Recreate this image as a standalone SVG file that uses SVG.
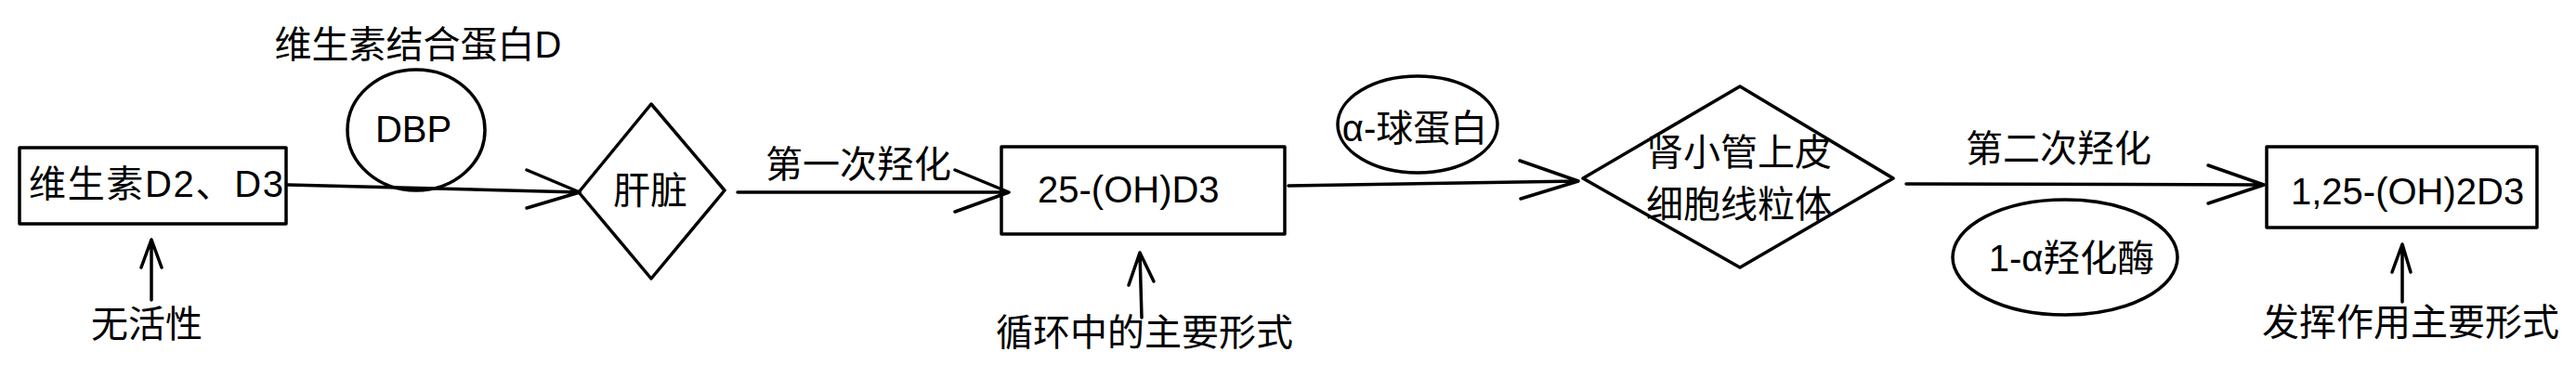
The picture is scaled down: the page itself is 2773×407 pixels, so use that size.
<svg xmlns="http://www.w3.org/2000/svg" width="2773" height="407" viewBox="0 0 2773 407">
<style>
.shape{fill:none;stroke:#000;stroke-width:3.5;stroke-linejoin:round;stroke-linecap:round}
.edge{fill:none;stroke:#000;stroke-width:3.5;stroke-linejoin:round;stroke-linecap:round}
text{font-family:"Liberation Sans","Noto Sans CJK SC",sans-serif;font-size:40px;fill:#000}
.m{text-anchor:middle}
</style>
<rect width="2773" height="407" fill="#fff"/>
<g id="connectors">
<path class="edge" d="M310 199 L624 207 M567 183 L624 207 L567 224"/>
<path class="edge" d="M794 207 L1086 207 M1028 183 L1086 207 L1028 228"/>
<path class="edge" d="M1387 200 L1699 195 M1636 173 L1699 195 L1637 214"/>
<path class="edge" d="M2052 198 L2437 199 M2377 178 L2437 199 L2377 219"/>
<path class="edge" d="M163 323 L163 258 M152 288 L163 258 L174 288"/>
<path class="edge" d="M1229 342 L1227 272 M1215 307 L1227 272 L1242 303"/>
<path class="edge" d="M2586 325 L2586 263 M2575 293 L2586 263 L2595 293"/>
</g>
<g id="vitD">
<rect class="shape" x="21" y="159" width="287" height="82"/>
<text x="31" y="212" textLength="274" lengthAdjust="spacing">维生素D2、D3</text>
</g>
<g id="dbpLabel"><text class="m" x="450" y="62">维生素结合蛋白D</text></g>
<g id="dbp">
<ellipse class="shape" cx="448" cy="140" rx="74" ry="65"/>
<text class="m" x="445" y="153">DBP</text>
</g>
<g id="inactive"><text class="m" x="158" y="363">无活性</text></g>
<g id="liver">
<polygon class="shape" points="623,207 701,112 780,205 701,300"/>
<text class="m" x="700" y="219">肝脏</text>
</g>
<g id="hyd1"><text class="m" x="924" y="191">第一次羟化</text></g>
<g id="ohd3">
<rect class="shape" x="1078" y="158" width="305" height="94"/>
<text x="1117" y="218">25-(OH)D3</text>
</g>
<g id="circForm"><text class="m" x="1232" y="372">循环中的主要形式</text></g>
<g id="alphaGlob">
<ellipse class="shape" cx="1526" cy="134" rx="86" ry="52"/>
<text class="m" x="1523" y="152">α-球蛋白</text>
</g>
<g id="kidney">
<polygon class="shape" points="1704,192 1873,93 2038,192 1873,288"/>
<text class="m" x="1872" y="178">肾小管上皮</text>
<text class="m" x="1872" y="234">细胞线粒体</text>
</g>
<g id="hyd2"><text class="m" x="2216" y="174">第二次羟化</text></g>
<g id="enzyme">
<ellipse class="shape" cx="2223" cy="277" rx="121" ry="62"/>
<text class="m" x="2230" y="292">1-α羟化酶</text>
</g>
<g id="active">
<rect class="shape" x="2440" y="158" width="291" height="87"/>
<text x="2466" y="220">1,25-(OH)2D3</text>
</g>
<g id="actForm"><text class="m" x="2595" y="361">发挥作用主要形式</text></g>
</svg>
